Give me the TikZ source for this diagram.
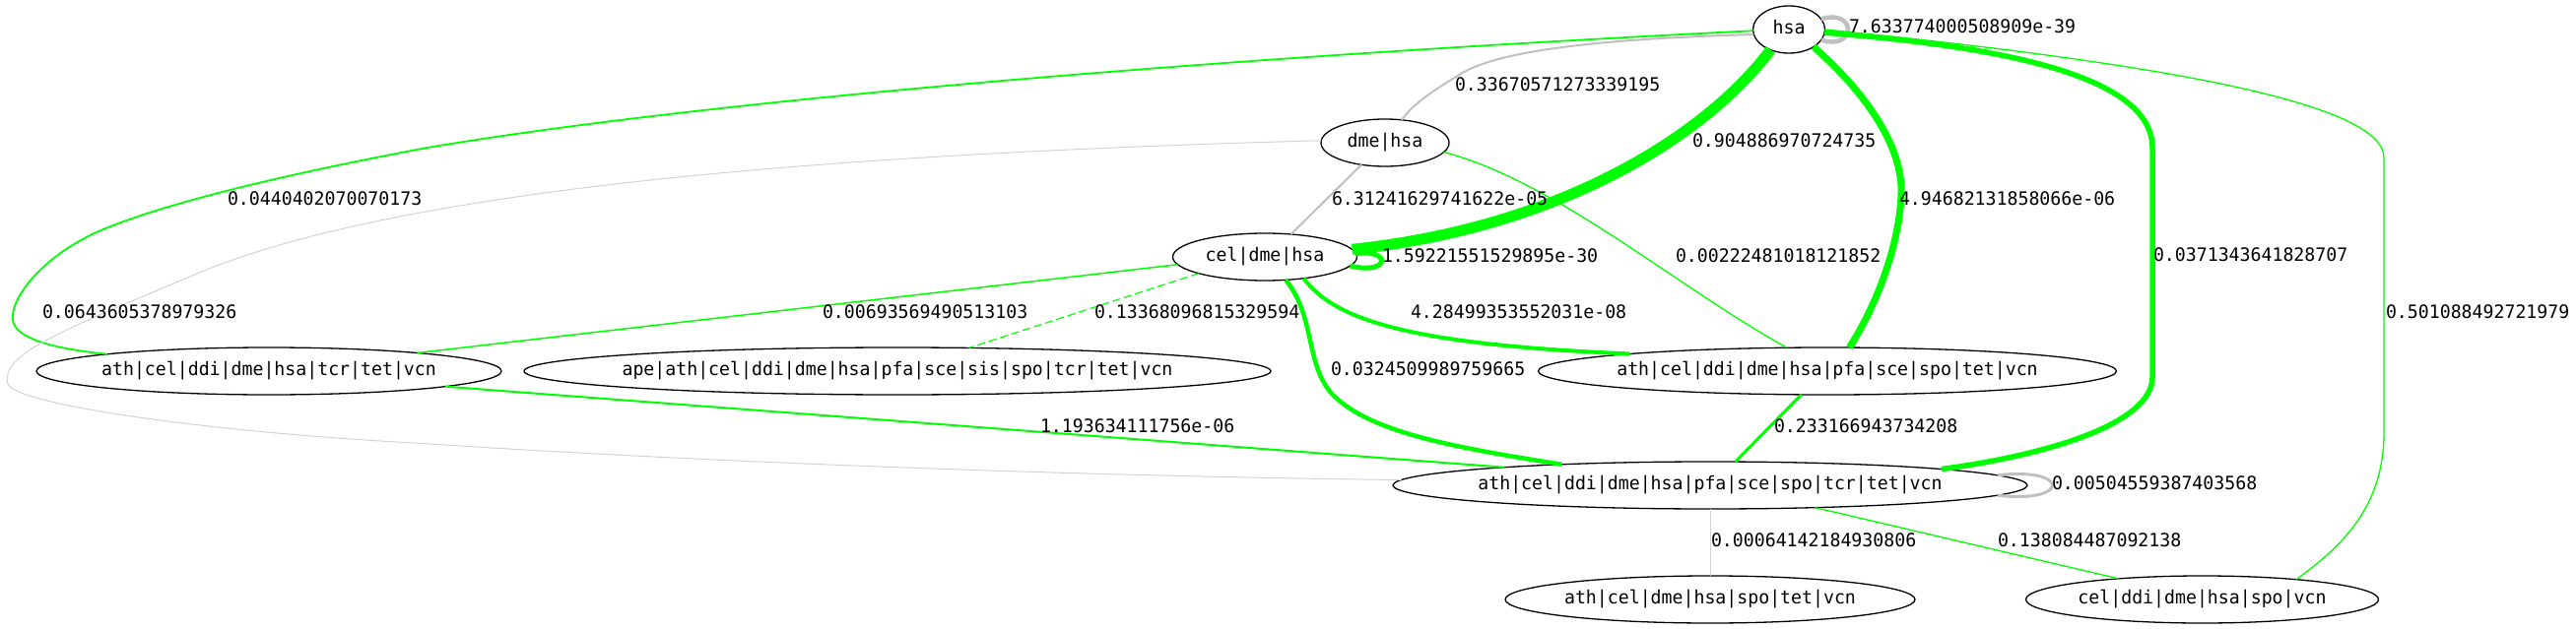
\documentclass[tikz,border=0pt]{standalone}
\usepackage{fontspec}
\newfontfamily\gvfont[FakeStretch=0.975]{DejaVu Sans Mono}
\usetikzlibrary{shapes.geometric}
\definecolor{gvgreen}{RGB}{0,255,0}
\definecolor{gvgray}{RGB}{192,192,192}
\definecolor{gvlight}{RGB}{211,211,211}
\newcommand\gvtxt[1]{\makebox[0pt]{\vphantom{|}#1}}
\begin{document}
\begin{tikzpicture}[x=1pt,y=-1pt,
  font=\gvfont\fontsize{18.67pt}{22pt}\selectfont,
  gvnode/.style={ellipse, draw=black, line width=1.3pt, inner sep=0pt, outer sep=0pt, minimum height=48pt},
  lbl/.style={anchor=west, inner sep=0pt, outer sep=0pt},
  grn/.style={draw=gvgreen},
  gry/.style={draw=gvgray},
  lgt/.style={draw=gvlight}]
\useasboundingbox[fill=white] (0,0) rectangle (2615,639);
% nodes
\node[gvnode, minimum width=73pt]  (hsa) at (1816,30)  {\gvtxt{hsa}};
\node[gvnode, minimum width=130pt] (dme) at (1406,145) {\gvtxt{dme|hsa}};
\node[gvnode, minimum width=187pt] (cdh) at (1284,261) {\gvtxt{cel|dme|hsa}};
\node[gvnode, minimum width=472pt] (n4)  at (273,377)  {\gvtxt{ath|cel|ddi|dme|hsa|tcr|tet|vcn}};
\node[gvnode, minimum width=758pt] (n5)  at (911,377)  {\gvtxt{ape|ath|cel|ddi|dme|hsa|pfa|sce|sis|spo|tcr|tet|vcn}};
\node[gvnode, minimum width=587pt] (n6)  at (1855,377) {\gvtxt{ath|cel|ddi|dme|hsa|pfa|sce|spo|tet|vcn}};
\node[gvnode, minimum width=644pt] (big) at (1736,493) {\gvtxt{ath|cel|ddi|dme|hsa|pfa|sce|spo|tcr|tet|vcn}};
\node[gvnode, minimum width=416pt] (n8)  at (1736,609) {\gvtxt{ath|cel|dme|hsa|spo|tet|vcn}};
\node[gvnode, minimum width=358pt] (n9)  at (2235.5,609) {\gvtxt{cel|ddi|dme|hsa|spo|vcn}};
% edges
\draw[gry, line width=4.5pt] (hsa.18) .. controls (1885,8) and (1885,52) .. (hsa.-18);
\draw[gry, line width=2pt] (hsa.188) .. controls (1600,40) and (1515,55) .. (1483,75) .. controls (1455,92) and (1435,105) .. (dme.54);
\draw[grn, line width=11pt] (hsa.228) .. controls (1730,140) and (1580,232) .. (cdh.5);
\draw[grn, line width=7pt] (hsa.-35) .. controls (1895,95) and (1932,150) .. (1930,197) .. controls (1928,250) and (1905,310) .. (n6.47.5);
\draw[grn, line width=5.5pt] (hsa.-5) .. controls (2000,45) and (2185,70) .. (2185,150) -- (2185,383) .. controls (2185,430) and (2080,462) .. (big.4.5);
\draw[grn, line width=1.3pt] (hsa.0) .. controls (2150,60) and (2420,100) .. (2420,160) -- (2420,440) .. controls (2420,520) and (2370,560) .. (n9.12.8);
\draw[grn, line width=1.8pt] (hsa.182) .. controls (1200,60) and (700,105) .. (434,150) .. controls (300,175) and (170,205) .. (100,235) .. controls (40,262) and (10,305) .. (13,325) .. controls (15,345) and (60,355) .. (n4.174.8);
\draw[gry, line width=2pt] (dme.223) -- (cdh.41.5);
\draw[grn, line width=1.3pt] (dme.-9.6) .. controls (1580,185) and (1700,290) .. (n6.150.8);
\draw[lgt, line width=1pt] (dme.178) .. controls (900,155) and (420,185) .. (200,278) .. controls (60,337) and (0,360) .. (8,390) .. controls (15,410) and (200,438) .. (420,450) .. controls (800,475) and (1200,485) .. (big.179);
\draw[grn, line width=5pt] (cdh.2) .. controls (1412,252) and (1412,280) .. (cdh.-6);
\draw[grn, line width=1.5pt] (cdh.185.6) -- (n4.7.2);
\draw[grn, line width=1.2pt, dash pattern=on 8pt off 4pt] (cdh.194.2) -- (n5.18.4);
\draw[grn, line width=4pt] (cdh.-29.4) .. controls (1355,325) and (1430,350) .. (n6.175.3);
\draw[grn, line width=4.5pt] (cdh.-48.8) .. controls (1335,320) and (1325,370) .. (1352,400) .. controls (1390,440) and (1480,455) .. (big.172.2);
\draw[grn, line width=2pt] (n4.-5.4) -- (big.175.9);
\draw[grn, line width=3pt] (n6.222.6) -- (big.43.8);
\draw[gry, line width=3pt] (big.2) .. controls (2102,474) and (2102,512) .. (big.-2);
\draw[lgt, line width=1pt] (big.south) -- (n8.north);
\draw[grn, line width=1.3pt] (big.-12.7) -- (n9.166.5);
% labels
\node[lbl] (l1)  at (1877,27)  {7.633774000508909e-39};
\node[lbl] (l2)  at (1477,86)  {0.33670571273339195};
\node[lbl] (l3)  at (1718,143) {0.904886970724735};
\node[lbl] (l4)  at (1928,202) {4.94682131858066e-06};
\node[lbl] (l5)  at (2186,259) {0.0371343641828707};
\node[lbl] (l6)  at (2422,317) {0.501088492721979};
\node[lbl] (l7)  at (231,202)  {0.0440402070070173};
\node[lbl] (l8)  at (1352,202) {6.31241629741622e-05};
\node[lbl] (l9)  at (1701,260) {0.00222481018121852};
\node[lbl] (l10) at (43,317)   {0.0643605378979326};
\node[lbl] (l11) at (1403,260) {1.59221551529895e-30};
\node[lbl] (l12) at (835,317)  {0.00693569490513103};
\node[lbl] (l13) at (1111,317) {0.13368096815329594};
\node[lbl] (l14) at (1432,317) {4.28499353552031e-08};
\node[lbl] (l15) at (1351,375) {0.0324509989759665};
\node[lbl] (l16) at (1056,433) {1.193634111756e-06};
\node[lbl] (l17) at (1801,433) {0.233166943734208};
\node[lbl] (l18) at (2083,491) {0.00504559387403568};
\node[lbl] (l19) at (1737,549) {0.00064142184930806};
\node[lbl] (l20) at (2028,549) {0.138084487092138};
\end{tikzpicture}
\end{document}
